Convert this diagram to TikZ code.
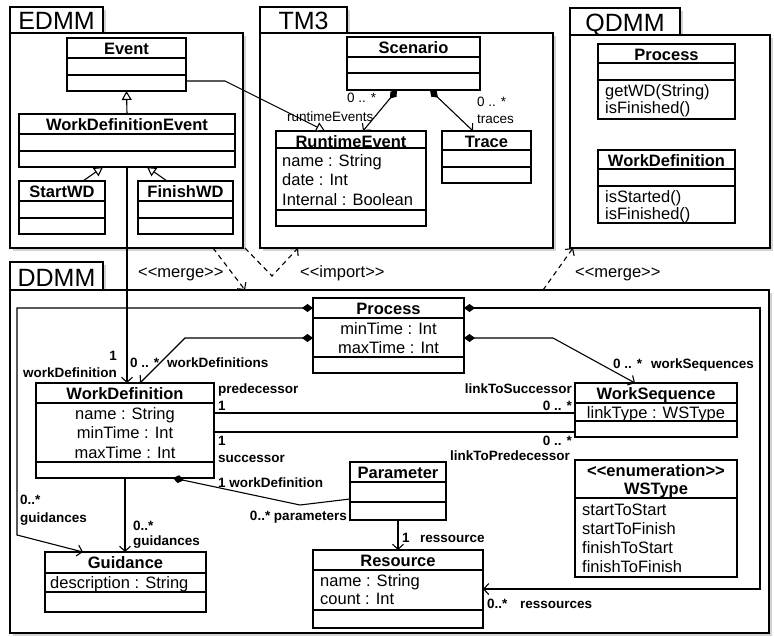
\documentclass[tikz,border=0pt]{standalone}
\usepackage{fontspec}
\setmainfont{Liberation Sans}
\usetikzlibrary{arrows.meta, shadows, positioning}

% class box: name, left, top, right, bottom, title, dividers
\newcommand{\umlclass}[7]{%
  \node[classbox, anchor=north west, minimum width={#4-#2}, minimum height={#5-#3}] (#1) at (#2,#3) {};
  \node[classname] (#1-title) at ({(#2+#4)/2},{#3+16}) {#6};
  \foreach \dv in {#7} {\draw[classline] (#2,\dv) -- (#4,\dv);}
}
% attribute lines: prefix, anchor, x, first baseline, step, lines
\newcommand{\umlattrs}[6]{%
  \foreach \a [count=\i] in {#6} {\node[attr, anchor=#2] (#1-\i) at (#3,{#4+(\i-1)*#5}) {\a};}
}
% package: name, label, left, tab top, tab right, body top, right, bottom
\newcommand{\umlpackage}[8]{%
  \node[pkgbox, anchor=north west, minimum width={#5-#3}, minimum height={#6-#4}] (#1-tab) at (#3,#4) {};
  \node[pkgname] (#1-name) at ({(#3+#5)/2},{#6-4}) {#2};
  \node[pkgbox, anchor=north west, minimum width={#7-#3}, minimum height={#8-#6}] (#1) at (#3,#6) {};
}

\begin{document}
\begin{tikzpicture}[x=1pt, y=-1pt,
    classbox/.style = {draw, fill=white, line width=1.2pt, inner sep=0pt, outer sep=0pt},
    classline/.style = {line width=1.2pt},
    classname/.style = {font=\fontsize{16.5}{20}\selectfont\bfseries, anchor=base, inner sep=0pt},
    attr/.style = {font=\fontsize{16.5}{20}\selectfont, inner sep=0pt},
    role/.style = {font=\fontsize{13.5}{16}\selectfont\bfseries, inner sep=0pt},
    tag/.style = {font=\fontsize{13.5}{16}\selectfont, inner sep=0pt},
    stereo/.style = {font=\fontsize{16.5}{18}\selectfont, inner sep=0pt, anchor=base west},
    pkgbox/.style = {draw, fill=white, line width=2pt, inner sep=0pt, outer sep=0pt,
      drop shadow={shadow xshift=2.5pt, shadow yshift=-2.5pt, opacity=0.35}},
    pkgname/.style = {font=\fontsize{25}{28}\selectfont, anchor=base, inner sep=0pt},
    assoc/.style = {line width=1.1pt},
    comp/.style = {assoc, {Diamond[length=11pt,width=8pt]}-{Straight Barb[length=5pt,width=11pt]}},
    comphead/.style = {assoc, {Diamond[length=11pt,width=8pt]}-},
    nav/.style = {assoc, -{Straight Barb[length=5pt,width=11pt]}},
    gen/.style = {assoc, -{Triangle[open, length=9pt, width=10pt, fill=white]}},
    dep/.style = {assoc, dash pattern=on 5pt off 4pt, -{Straight Barb[length=5pt,width=11pt]}}
  ]
  \useasboundingbox (0,0) rectangle (774,637);

  % packages
  \umlpackage{edmm}{EDMM}{10}{7}{103}{33}{243}{248}
  \umlpackage{tm3}{TM3}{260}{7}{347}{33}{553}{248}
  \umlpackage{qdmm}{QDMM}{570}{8}{680}{35}{770}{248}
  \umlpackage{ddmm}{DDMM}{10}{262}{103}{290}{769}{633}

  % EDMM
  \umlclass{event}{67}{38}{186}{91}{Event}{58,75}
  \umlclass{wde}{19}{114}{235}{167}{WorkDefinitionEvent}{134,151}
  \umlclass{startwd}{19}{181}{105}{234}{StartWD}{201,218}
  \umlclass{finishwd}{138}{181}{233}{234}{FinishWD}{201,218}

  % TM3
  \umlclass{scenario}{347}{37}{480}{90}{Scenario}{57,73}
  \umlclass{rtevent}{276}{131}{426}{226}{RuntimeEvent}{148,210}
  \umlattrs{rtevent}{base west}{282}{166}{19.5}{name : String, date : Int, Internal : Boolean}
  \umlclass{trace}{442}{131}{531}{183}{Trace}{150,167}

  % QDMM
  \umlclass{qproc}{598}{44}{735}{119}{Process}{63,80}
  \umlattrs{qproc}{base west}{605}{96}{17}{getWD(String), isFinished()}
  \umlclass{qwd}{598}{150}{735}{223}{WorkDefinition}{169,186}
  \umlattrs{qwd}{base west}{605}{202}{17}{isStarted(), isFinished()}

  % DDMM
  \umlclass{proc}{313}{298}{464}{373}{Process}{318,357}
  \umlattrs{proc}{base}{388.5}{334}{19}{minTime : Int, maxTime : Int}
  \umlclass{wd}{36}{383}{214}{478}{WorkDefinition}{403,462}
  \umlattrs{wd}{base}{125}{419}{19.5}{name : String, minTime : Int, maxTime : Int}
  \umlclass{ws}{575}{383}{737}{437}{WorkSequence}{403,421}
  \umlattrs{ws}{base}{656}{418}{19}{linkType : WSType}
  \umlclass{wstype}{575}{460}{737}{577}{<{}<enumeration>{}>}{498}
  \node[classname] (wstype-name) at (656,494) {WSType};
  \umlattrs{wstype}{base west}{582}{515}{19}{startToStart, startToFinish, finishToStart, finishToFinish}
  \umlclass{param}{350}{462}{446}{520}{Parameter}{482,502}
  \umlclass{res}{313}{550}{483}{628}{Resource}{570,610}
  \umlattrs{res}{base west}{320}{586}{18}{name : String, count : Int}
  \umlclass{guid}{45}{552}{206}{612}{Guidance}{573,592}
  \umlattrs{guid}{base west}{50}{588}{19}{description : String}

  % EDMM links
  \draw[gen] (wde.north) -- (event.south);
  \draw[gen] ([xshift=21pt]startwd.north) -- ([xshift=-24pt]wde.south);
  \draw[gen] ([xshift=-18.5pt]finishwd.north) -- ([xshift=20pt]wde.south);
  \draw[gen] ([yshift=-16.5pt]event.east) -- ++(39,0) -- ([xshift=-26pt]rtevent.north);
  \draw[nav] (wde.south) -- (wde.south |- wd.north);

  % TM3 links
  \draw[comp] ([xshift=-16.5pt]scenario.south) -- ([xshift=12pt]rtevent.north);
  \draw[comp] ([xshift=16.5pt]scenario.south) -- ([xshift=-13.5pt]trace.north);
  \node[tag, anchor=base west] (re-mult) at (347,102) {0 .. *};
  \node[tag, anchor=base west] (re-role) at (287,121) {runtimeEvents};
  \node[tag, anchor=base west] (tr-mult) at (477,106) {0 .. *};
  \node[tag, anchor=base west] (tr-role) at (477,123) {traces};

  % package dependencies
  \draw[dep] ([xshift=86.5pt]edmm.south) -- ([xshift=-144.5pt]ddmm.north);
  \draw[dep] ([xshift=2pt]edmm.south east) -- ++(27,28) -- ([xshift=-108.5pt]tm3.south);
  \draw[dep] ([xshift=153.5pt]ddmm.north) -- ([xshift=-97pt]qdmm.south);
  \node[stereo] (merge1) at (138,277) {<{}<merge>{}>};
  \node[stereo] (import1) at (300,277) {<{}<import>{}>};
  \node[stereo] (merge2) at (575,277) {<{}<merge>{}>};

  % DDMM links
  \draw[comp] ([yshift=27.5pt]proc.west) -- ++(-296,0) -- ++(0,227) -- ([xshift=-42.5pt]guid.north);
  \draw[comp] ([yshift=-2.5pt]proc.west) -- ++(-128,0) -- ([xshift=15pt]wd.north);
  \draw[comp] ([yshift=27.5pt]proc.east) -- ++(296,0) |- (res.east);
  \draw[comp] ([yshift=-2.5pt]proc.east) -- ++(89,0) -- ([xshift=-21pt]ws.north);
  \coordinate (pred) at ([yshift=17.5pt]wd.east);
  \coordinate (succ) at ([yshift=-1.5pt]wd.east);
  \draw[assoc] (pred) -- (pred -| ws.west);
  \draw[assoc] (succ) -- (succ -| ws.west);
  \coordinate (parbend) at (300,505);
  \draw[comphead] ([xshift=48pt]wd.south) -- (parbend) -- ([yshift=-8pt]param.west);
  \draw[nav] (param.south) -- (res.north);
  \draw[nav] (wd.south) -- (wd.south |- guid.north);

  % DDMM role labels
  \node[role, anchor=base east] (l1) at (117,360) {1};
  \node[role, anchor=base east] (l2) at (117,377) {workDefinition};
  \node[role, anchor=base west] (l3) at (130,367) {0 .. *};
  \node[role, anchor=base west] (l4) at (167,367) {workDefinitions};
  \node[role, anchor=base west] (l5) at (613,368) {0 .. *};
  \node[role, anchor=base west] (l6) at (651,368) {workSequences};
  \node[role, anchor=base west] (l7) at (218,393) {predecessor};
  \node[role, anchor=base west] (l8) at (218,410) {1};
  \node[role, anchor=base west] (l9) at (218,445) {1};
  \node[role, anchor=base west] (l10) at (218,462) {successor};
  \node[role, anchor=base west] (l11) at (218,487) {1 workDefinition};
  \node[role, anchor=base east] (l12) at (572,393) {linkToSuccessor};
  \node[role, anchor=base east] (l13) at (572,410) {0 .. *};
  \node[role, anchor=base east] (l14) at (572,445) {0 .. *};
  \node[role, anchor=base east] (l15) at (570,460) {linkToPredecessor};
  \node[role, anchor=base east] (l16) at (347,520) {0..* parameters};
  \node[role, anchor=base west] (l17) at (402,542) {1};
  \node[role, anchor=base west] (l18) at (420,542) {ressource};
  \node[role, anchor=base west] (l19) at (487,608) {0..*};
  \node[role, anchor=base west] (l20) at (520,608) {ressources};
  \node[role, anchor=base west] (l21) at (20,504) {0..*};
  \node[role, anchor=base west] (l22) at (20,522) {guidances};
  \node[role, anchor=base west] (l23) at (133,530) {0..*};
  \node[role, anchor=base west] (l24) at (133,545) {guidances};
\end{tikzpicture}
\end{document}
